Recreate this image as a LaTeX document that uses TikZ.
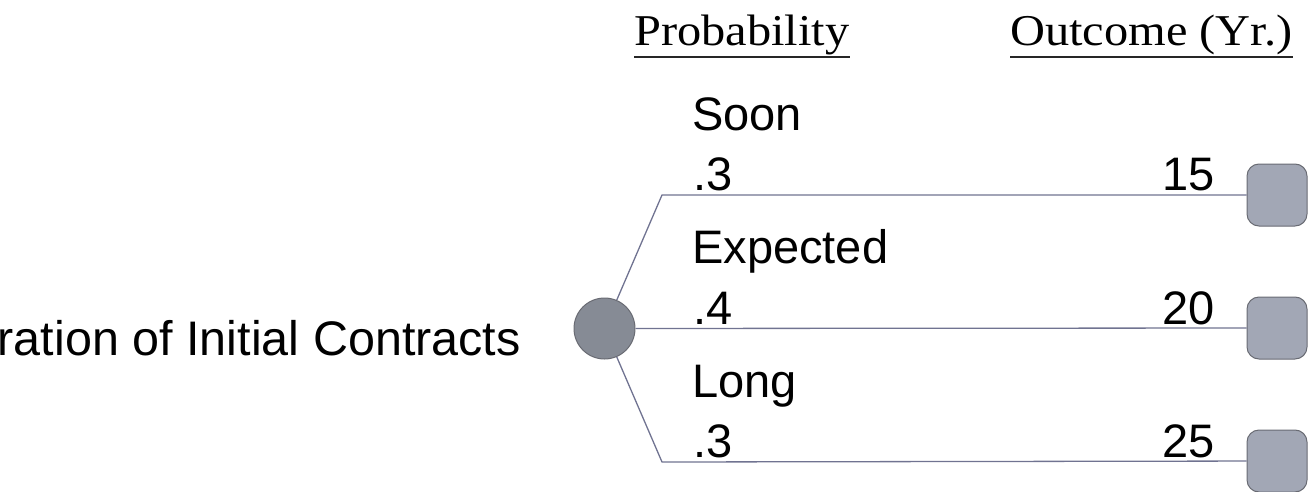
\documentclass[tikz,border=0pt]{standalone}
\usepackage{fontspec}
\setmainfont{Liberation Sans}
\newfontfamily\headfont[FakeStretch=1.1]{Liberation Serif}
\definecolor{chancefill}{RGB}{134,139,149}
\definecolor{endfill}{RGB}{162,167,181}
\definecolor{shapeedge}{RGB}{105,107,115}
\definecolor{branchcol}{RGB}{112,115,145}
\tikzset{
  lbl/.style={inner sep=0pt, font=\fontsize{47}{56}\selectfont},
  varlbl/.style={inner sep=0pt, font=\fontsize{48.5}{58}\selectfont},
  head/.style={inner sep=0pt, font=\headfont\fontsize{44}{52}\selectfont},
  headline/.style={line width=2pt, black!85},
  chancenode/.style={circle, minimum size=61pt, inner sep=0pt, fill=chancefill, draw=shapeedge, line width=1pt},
  endnode/.style={rectangle, rounded corners=12pt, minimum width=60pt, minimum height=62pt, inner sep=0pt, fill=endfill, draw=shapeedge, line width=1pt},
  branch/.style={draw=branchcol, line width=1.3pt}
}
\begin{document}
\begin{tikzpicture}[x=1pt, y=-1pt]
\useasboundingbox (0,0) rectangle (1314,492);
\clip (0,0) rectangle (1314,492);

% column headings
\node[head, anchor=base west] (hprob) at (634,46) {Probability};
\node[head, anchor=base west] (hout) at (1010,46) {Outcome (Yr.)};
\draw[headline] ([yshift=-11pt]hprob.base west) -- ([yshift=-11pt]hprob.base east);
\draw[headline] ([yshift=-11pt]hout.base west) -- ([yshift=-11pt]hout.base east);

% uncertain variable
\node[varlbl, anchor=base east] (var) at (521,355) {Duration of Initial Contracts};

% chance node and outcomes
\node[chancenode] (chance) at (604.5,328.5) {};
\node[endnode] (end1) at (1277,195) {};
\node[endnode] (end2) at (1277,328) {};
\node[endnode] (end3) at (1277,461) {};

\coordinate (k1) at (662,195);
\coordinate (k3) at (662,462);
\draw[branch] (chance) -- (k1) -- (end1);
\draw[branch] (chance) -- (end2);
\draw[branch] (chance) -- (k3) -- (end3);

% branch labels
\node[lbl, anchor=base west] (b1) at (692,131) {Soon};
\node[lbl, anchor=base west] (p1) at (693,190) {.3};
\node[lbl, anchor=base west] (b2) at (692,263) {Expected};
\node[lbl, anchor=base west] (p2) at (693,324) {.4};
\node[lbl, anchor=base west] (b3) at (692,397) {Long};
\node[lbl, anchor=base west] (p3) at (693,457) {.3};

% outcome values
\node[lbl, anchor=base east] (v1) at (1215,190) {15};
\node[lbl, anchor=base east] (v2) at (1215,324) {20};
\node[lbl, anchor=base east] (v3) at (1215,457) {25};
\end{tikzpicture}
\end{document}
